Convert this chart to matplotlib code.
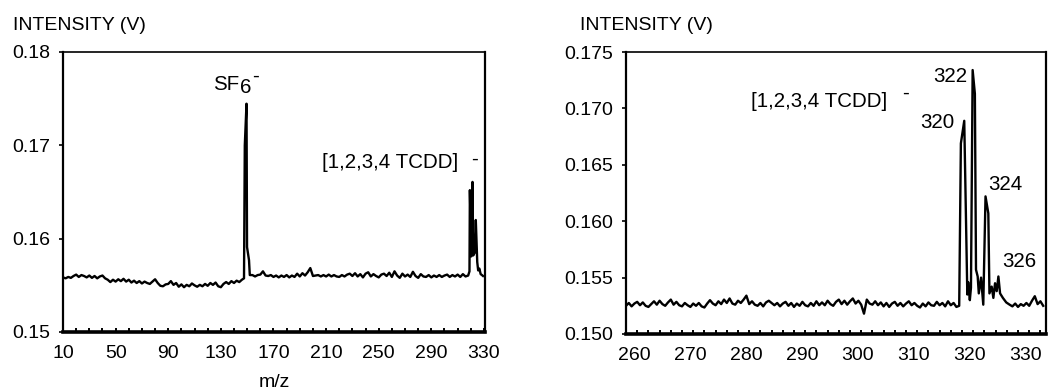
import numpy as np
import matplotlib
matplotlib.use("Agg")
import matplotlib.pyplot as plt
from matplotlib.transforms import ScaledTranslation

plt.rcParams['font.family'] = ['Liberation Sans', 'DejaVu Sans']

# ---------------- left panel data (full scan m/z 10-330) ----------------
left_base1_start, left_base1_step = 10, 2
left_base1_y = [
    .15585, .15575, .15590, .15580, .15600, .15615, .15590, .15610, .15600, .15585,
    .15605, .15580, .15600, .15575, .15595, .15605, .15575, .15560, .15535, .15560,
    .15540, .15565, .15545, .15570, .15540, .15560, .15530, .15550, .15525, .15545,
    .15520, .15540, .15525, .15515, .15540, .15565, .15525, .15495, .15490, .15510,
    .15515, .15545, .15505, .15525, .15485, .15510, .15480, .15505, .15490, .15520,
    .15500, .15485, .15505, .15490, .15515, .15495, .15525, .15505, .15530, .15490,
    .15480, .15515, .15535, .15515, .15545, .15525, .15550, .15535, .15560]
sf6_x = [147.6, 148.2, 149.5, 149.9, 151.4, 152.0]
sf6_y = [.15575, .1700, .17446, .1591, .1577, .1561]
left_base2_start, left_base2_step = 154, 2
left_base2_y = [
    .15610, .15595, .15610, .15615, .15650, .15605, .15600, .15610, .15590, .15605,
    .15585, .15605, .15590, .15610, .15585, .15605, .15590, .15625, .15595, .15630,
    .15605, .15640, .15685, .15600, .15605, .15610, .15595, .15610, .15595, .15615,
    .15595, .15610, .15595, .15590, .15610, .15595, .15615, .15625, .15600, .15630,
    .15595, .15620, .15585, .15625, .15640, .15595, .15620, .15600, .15585, .15615,
    .15625, .15600, .15635, .15590, .15650, .15605, .15580, .15625, .15595, .15615,
    .15590, .15645, .15600, .15580, .15620, .15595, .15590, .15610, .15585, .15605,
    .15590, .15610, .15590, .15605, .15615, .15590, .15610, .15595, .15615, .15590,
    .15620, .15595, .15605]
tcdd_left_x = [319.0, 319.3, 320.4, 321.3, 321.8, 323.0, 323.8, 324.9, 325.6, 326.5, 327.5, 328.5, 329.3]
tcdd_left_y = [.15650, .16520, .15810, .16608, .15820, .15850, .16200, .15750, .15660, .15680, .15620, .15610, .15600]

# ---------------- right panel data (zoom m/z 260-335) ----------------
right_base_start, right_base_step = 260, 0.5
right_base_y = [
    .15250, .15275, .15245, .15270, .15285, .15255, .15280, .15250, .15240, .15265,
    .15290, .15260, .15295, .15265, .15250, .15280, .15305, .15260, .15285, .15255,
    .15245, .15275, .15255, .15240, .15270, .15250, .15275, .15245, .15235, .15270,
    .15300, .15270, .15255, .15290, .15265, .15305, .15275, .15315, .15270, .15260,
    .15295, .15275, .15305, .15340, .15265, .15290, .15260, .15250, .15275, .15245,
    .15280, .15295, .15275, .15255, .15275, .15245, .15270, .15285, .15250, .15275,
    .15240, .15270, .15250, .15285, .15255, .15245, .15275, .15250, .15290, .15255,
    .15280, .15255, .15295, .15265, .15250, .15285, .15305, .15265, .15295, .15260,
    .15290, .15315, .15270, .15295, .15260, .15180, .15305, .15270, .15260, .15290,
    .15255, .15280, .15245, .15275, .15240, .15270, .15285, .15250, .15275, .15245,
    .15270, .15290, .15255, .15275, .15250, .15235, .15270, .15245, .15280, .15255,
    .15250, .15285, .15255, .15275, .15245, .15290, .15255, .15275, .15240, .15250]
tcdd_right_x = [319.8, 320.4, 320.95, 321.1, 321.4, 321.6, 321.9, 322.3, 322.5, 322.8,
                323.0, 323.4, 323.8, 324.2, 324.7, 324.9, 325.3, 325.6, 325.9, 326.2,
                326.5, 326.8, 327.3, 327.9]
tcdd_right_y = [.1669, .1689, .1535, .1546, .1530, .1541, .1734, .1713, .1557, .1551,
                .1536, .1550, .1526, .1622, .1607, .1536, .1542, .1532, .1545, .1538,
                .1551, .1536, .1532, .1528]
right_tail_start, right_tail_step = 328.5, 0.5
right_tail_y = [.15260, .15245, .15270, .15240, .15265, .15250, .15275, .15250,
                .15295, .15335, .15265, .15290, .15250]

left_xticks = [10, 50, 90, 130, 170, 210, 250, 290, 330]
left_yticks = [0.15, 0.16, 0.17, 0.18]
right_xticks = [260, 270, 280, 290, 300, 310, 320, 330]
right_yticks = [0.150, 0.155, 0.160, 0.165, 0.170, 0.175]
peak_labels = ['320', '322', '324', '326']
peak_label_pos = [(315.6, 0.16827), (317.86, 0.17238), (327.8, 0.16277), (330.2, 0.15597)]


def grid(start, step, vals):
    return start + step * np.arange(len(vals))


lx = np.concatenate([grid(left_base1_start, left_base1_step, left_base1_y), sf6_x,
                     grid(left_base2_start, left_base2_step, left_base2_y), tcdd_left_x])
ly = np.concatenate([left_base1_y, sf6_y, left_base2_y, tcdd_left_y])
rx = np.concatenate([grid(right_base_start, right_base_step, right_base_y), tcdd_right_x,
                     grid(right_tail_start, right_tail_step, right_tail_y)])
ry = np.concatenate([right_base_y, tcdd_right_y, right_tail_y])

W, H = 1049, 389
fig = plt.figure(figsize=(W / 100, H / 100), dpi=100)
axL = fig.add_axes([63 / W, 1 - 332 / H, 422 / W, 280 / H])
axR = fig.add_axes([626 / W, 1 - 334 / H, 420 / W, 282 / H])

FS_TICK = 14
FS_TXT = 14.8
FS_TITLE = 14

for ax in (axL, axR):
    for s in ('left', 'right'):
        ax.spines[s].set_linewidth(1.6)
    ax.spines['top'].set_linewidth(1.2)
    ax.spines['bottom'].set_linewidth(2.6)
    ax.tick_params(axis='x', which='both', direction='in', length=3, width=1.4,
                   pad=9, labelsize=FS_TICK, top=False)
    ax.tick_params(axis='y', which='both', direction='out', length=3, width=1.2,
                   pad=6, labelsize=FS_TICK, right=False)

axL.plot(lx, ly, color='black', lw=1.7)
axL.set_xlim(10, 330.8)
axL.set_ylim(0.15, 0.18)
axL.set_xticks(left_xticks)
axL.set_xticks(np.arange(10, 331, 10), minor=True)
axL.set_yticks(left_yticks)
axL.set_yticklabels([f'{v:.2f}' for v in left_yticks])
axL.set_xlabel('m/z', fontsize=FS_TITLE, labelpad=9)

axR.plot(rx, ry, color='black', lw=1.7)
axR.set_xlim(260, 335)
axR.set_ylim(0.150, 0.175)
axR.set_xticks(right_xticks)
axR.set_xticks(np.arange(260, 335, 2), minor=True)
axR.set_yticks(right_yticks)
axR.set_yticklabels([f'{v:.3f}' for v in right_yticks])
off = ScaledTranslation(8 / 100, 0, fig.dpi_scale_trans)
for lab in axR.get_xticklabels():
    lab.set_transform(lab.get_transform() + off)

# titles
fig.text(13 / W, 1 - 30 / H, 'INTENSITY (V)', fontsize=FS_TITLE, va='baseline', ha='left')
fig.text(580 / W, 1 - 30 / H, 'INTENSITY (V)', fontsize=FS_TITLE, va='baseline', ha='left')

# left annotations
axL.text(124.1, 0.17595, 'SF', fontsize=FS_TXT, ha='left', va='baseline')
axL.annotate('6', xy=(124.1, 0.17595), xytext=(19.2, -2), textcoords='offset points',
             fontsize=FS_TXT, ha='left', va='baseline')
axL.annotate('-', xy=(124.1, 0.17595), xytext=(28.0, 6), textcoords='offset points',
             fontsize=FS_TXT, ha='left', va='baseline')
axL.text(207.0, 0.16758, '[1,2,3,4 TCDD]', fontsize=FS_TXT, ha='left', va='baseline')
axL.annotate('-', xy=(322.8, 0.16758), xytext=(0, 2.5), textcoords='offset points',
             fontsize=FS_TXT, ha='center', va='baseline')

# right annotations
axR.text(282.3, 0.17013, '[1,2,3,4 TCDD]', fontsize=FS_TXT, ha='left', va='baseline')
axR.annotate('-', xy=(310.0, 0.17013), xytext=(0, 6), textcoords='offset points',
             fontsize=FS_TXT, ha='center', va='baseline')
for lab, (x, y) in zip(peak_labels, peak_label_pos):
    axR.text(x, y, lab, fontsize=FS_TXT, ha='center', va='baseline')

fig.savefig('out.png', dpi=100)
